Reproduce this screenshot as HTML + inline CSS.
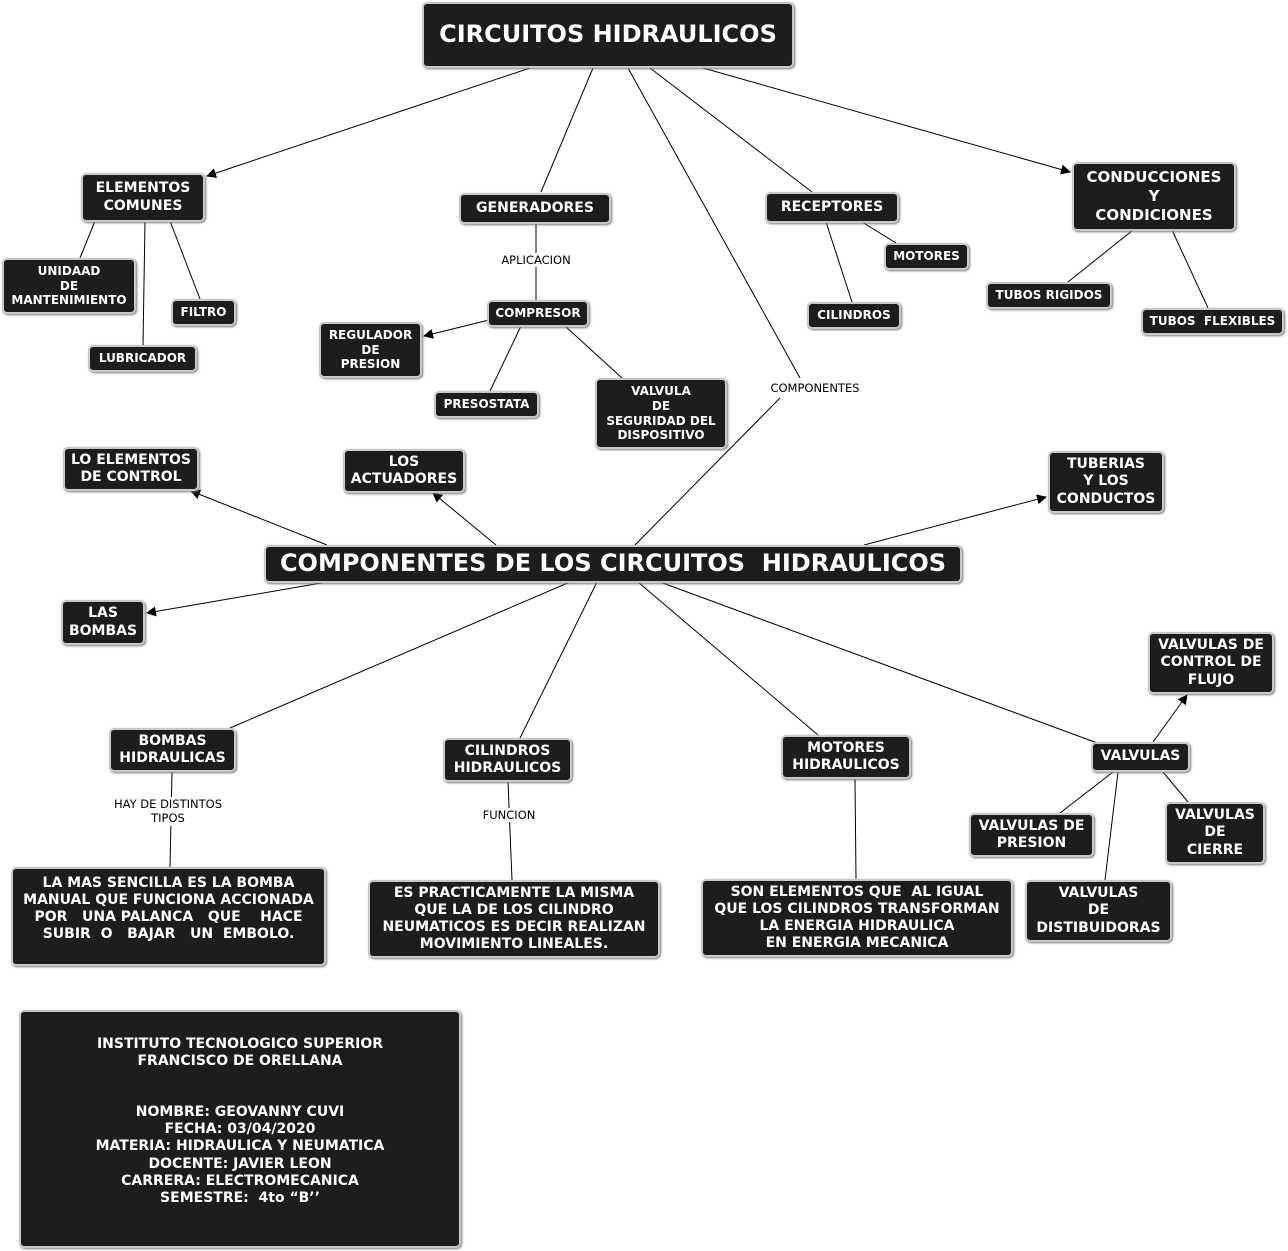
<!DOCTYPE html>
<html><head><meta charset="utf-8"><style>
body{margin:0;width:1288px;height:1251px;background:#fff;position:relative;overflow:hidden;font-family:"DejaVu Sans","Liberation Sans",sans-serif;}
.n{position:absolute;box-sizing:border-box;background:#1e1c1c;border:2px solid #c8c8c8;border-radius:5px;color:#fff;font-weight:bold;display:flex;align-items:center;justify-content:center;text-align:center;font-size:12px;line-height:1.22;box-shadow:1px 1px 2px #777;}
.m{font-size:14px;}
.l{position:absolute;font-size:11.5px;text-align:center;color:#000;background:#fff;line-height:1.25;}
svg{position:absolute;left:0;top:0;}
</style></head><body>
<svg width="1288" height="1251">
<defs><marker id="a" markerWidth="10" markerHeight="10" refX="9" refY="5" orient="auto" markerUnits="userSpaceOnUse"><path d="M0,0 L10,5 L0,10 z" fill="#000"/></marker></defs>
<g stroke="#000" stroke-width="1" fill="none">
<line x1="530" y1="68" x2="207" y2="176" marker-end="url(#a)"/>
<line x1="593" y1="68" x2="541" y2="192"/>
<line x1="628" y1="68" x2="800" y2="378"/>
<line x1="780" y1="398" x2="635" y2="545"/>
<line x1="650" y1="68" x2="812" y2="192"/>
<line x1="703" y1="68" x2="1070" y2="172" marker-end="url(#a)"/>
<line x1="95" y1="221" x2="80" y2="258"/>
<line x1="145" y1="221" x2="143" y2="345"/>
<line x1="170" y1="221" x2="200" y2="299"/>
<line x1="536" y1="223" x2="536" y2="300"/>
<line x1="489" y1="320" x2="424" y2="336" marker-end="url(#a)"/>
<line x1="521" y1="326" x2="490" y2="391"/>
<line x1="565" y1="326" x2="622" y2="378"/>
<line x1="826" y1="222" x2="852" y2="302"/>
<line x1="862" y1="222" x2="896" y2="243"/>
<line x1="1133" y1="230" x2="1068" y2="282"/>
<line x1="1172" y1="230" x2="1208" y2="308"/>
<line x1="327" y1="545" x2="191" y2="491" marker-end="url(#a)"/>
<line x1="496" y1="545" x2="433" y2="493" marker-end="url(#a)"/>
<line x1="864" y1="545" x2="1046" y2="497" marker-end="url(#a)"/>
<line x1="327" y1="582" x2="147" y2="613" marker-end="url(#a)"/>
<line x1="570" y1="582" x2="230" y2="728"/>
<line x1="597" y1="582" x2="520" y2="738"/>
<line x1="638" y1="582" x2="818" y2="735"/>
<line x1="660" y1="582" x2="1100" y2="744"/>
<line x1="1153" y1="742" x2="1187" y2="695" marker-end="url(#a)"/>
<line x1="1113" y1="772" x2="1060" y2="813"/>
<line x1="1118" y1="772" x2="1105" y2="880"/>
<line x1="1163" y1="772" x2="1188" y2="802"/>
<line x1="172" y1="772" x2="170" y2="867"/>
<line x1="508" y1="782" x2="512" y2="880"/>
<line x1="855" y1="779" x2="856" y2="879"/>
</g></svg>
<div class="l" style="left:496px;top:253px;width:80px">APLICACION</div>
<div class="l" style="left:765px;top:381px;width:100px">COMPONENTES</div>
<div class="l" style="left:105px;top:797px;width:126px">HAY DE DISTINTOS<br>TIPOS</div>
<div class="l" style="left:474px;top:808px;width:70px">FUNCION</div>

<div class="n" style="left:422px;top:2px;width:372px;height:66px;font-size:24px">CIRCUITOS HIDRAULICOS</div>
<div class="n m" style="left:81px;top:173px;width:124px;height:49px">ELEMENTOS<br>COMUNES</div>
<div class="n m" style="left:459px;top:193px;width:152px;height:31px">GENERADORES</div>
<div class="n m" style="left:765px;top:192px;width:134px;height:31px">RECEPTORES</div>
<div class="n m" style="left:1072px;top:162px;width:164px;height:69px;font-size:15px;line-height:19px">CONDUCCIONES<br>Y<br>CONDICIONES</div>
<div class="n" style="left:2px;top:258px;width:134px;height:56px">UNIDAAD<br>DE<br>MANTENIMIENTO</div>
<div class="n" style="left:171px;top:299px;width:65px;height:27px">FILTRO</div>
<div class="n" style="left:88px;top:345px;width:109px;height:27px">LUBRICADOR</div>
<div class="n" style="left:487px;top:300px;width:102px;height:27px">COMPRESOR</div>
<div class="n" style="left:319px;top:322px;width:103px;height:56px">REGULADOR<br>DE<br>PRESION</div>
<div class="n" style="left:434px;top:391px;width:105px;height:27px">PRESOSTATA</div>
<div class="n" style="left:595px;top:378px;width:132px;height:71px">VALVULA<br>DE<br>SEGURIDAD DEL<br>DISPOSITIVO</div>
<div class="n" style="left:884px;top:243px;width:85px;height:27px">MOTORES</div>
<div class="n" style="left:807px;top:302px;width:94px;height:27px">CILINDROS</div>
<div class="n" style="left:986px;top:282px;width:126px;height:27px">TUBOS RIGIDOS</div>
<div class="n" style="left:1141px;top:308px;width:143px;height:27px">TUBOS &nbsp;FLEXIBLES</div>
<div class="n m" style="left:63px;top:447px;width:136px;height:44px">LO ELEMENTOS<br>DE CONTROL</div>
<div class="n m" style="left:343px;top:449px;width:122px;height:44px">LOS<br>ACTUADORES</div>
<div class="n m" style="left:1048px;top:451px;width:116px;height:62px">TUBERIAS<br>Y LOS<br>CONDUCTOS</div>
<div class="n" style="left:264px;top:545px;width:698px;height:38px;font-size:24px">COMPONENTES DE LOS CIRCUITOS &nbsp;HIDRAULICOS</div>
<div class="n m" style="left:61px;top:600px;width:84px;height:45px">LAS<br>BOMBAS</div>
<div class="n m" style="left:109px;top:728px;width:127px;height:44px">BOMBAS<br>HIDRAULICAS</div>
<div class="n m" style="left:443px;top:738px;width:129px;height:44px">CILINDROS<br>HIDRAULICOS</div>
<div class="n m" style="left:781px;top:735px;width:130px;height:44px">MOTORES<br>HIDRAULICOS</div>
<div class="n m" style="left:1091px;top:742px;width:99px;height:30px">VALVULAS</div>
<div class="n m" style="left:1148px;top:632px;width:126px;height:62px">VALVULAS DE<br>CONTROL DE<br>FLUJO</div>
<div class="n m" style="left:969px;top:813px;width:125px;height:44px">VALVULAS DE<br>PRESION</div>
<div class="n m" style="left:1165px;top:802px;width:100px;height:62px">VALVULAS<br>DE<br>CIERRE</div>
<div class="n m" style="left:1025px;top:880px;width:147px;height:62px">VALVULAS<br>DE<br>DISTIBUIDORAS</div>
<div class="n m" style="left:11px;top:867px;width:315px;height:99px;align-items:flex-start;padding-top:6px">LA MAS SENCILLA ES LA BOMBA<br>MANUAL QUE FUNCIONA ACCIONADA<br>POR &nbsp;&nbsp;UNA PALANCA &nbsp;&nbsp;QUE &nbsp;&nbsp;&nbsp;HACE<br>SUBIR &nbsp;O &nbsp;&nbsp;BAJAR &nbsp;&nbsp;UN &nbsp;EMBOLO.</div>
<div class="n m" style="left:368px;top:880px;width:292px;height:78px">ES PRACTICAMENTE LA MISMA<br>QUE LA DE LOS CILINDRO<br>NEUMATICOS ES DECIR REALIZAN<br>MOVIMIENTO LINEALES.</div>
<div class="n m" style="left:701px;top:879px;width:312px;height:78px">SON ELEMENTOS QUE &nbsp;AL IGUAL<br>QUE LOS CILINDROS TRANSFORMAN<br>LA ENERGIA HIDRAULICA<br>EN ENERGIA MECANICA</div>
<div class="n m" style="left:19px;top:1010px;width:442px;height:238px;align-items:flex-start;padding-top:24px">INSTITUTO TECNOLOGICO SUPERIOR<br>FRANCISCO DE ORELLANA<br><br><br>NOMBRE: GEOVANNY CUVI<br>FECHA: 03/04/2020<br>MATERIA: HIDRAULICA Y NEUMATICA<br>DOCENTE: JAVIER LEON<br>CARRERA: ELECTROMECANICA<br>SEMESTRE: &nbsp;4to “B’’</div>
</body></html>
